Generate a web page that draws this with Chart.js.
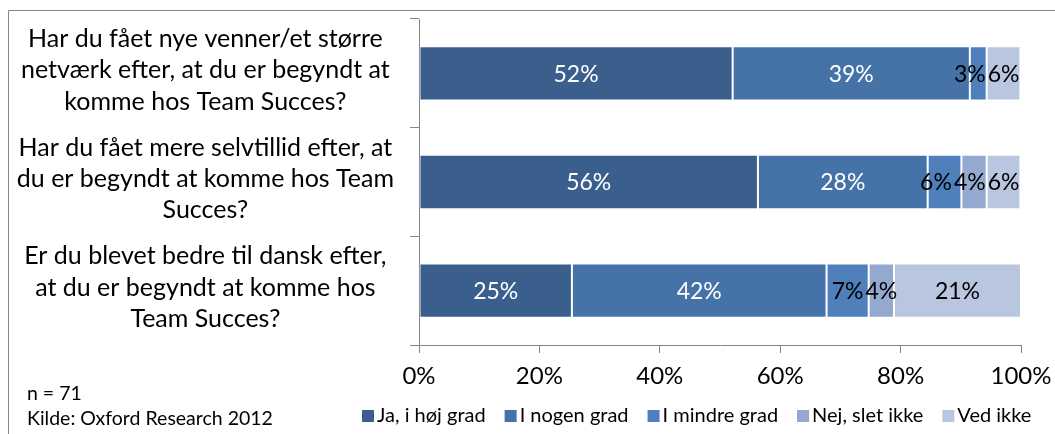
<!DOCTYPE html>
<html>
<head>
<meta charset="utf-8">
<title>Team Succes</title>
<script src="https://cdn.jsdelivr.net/npm/chart.js@4"></script>
<style>
  html, body { margin: 0; padding: 0; background: #fff; overflow: hidden; }
  #wrap { position: relative; width: 1055px; height: 434px; }
</style>
</head>
<body>
<div id="wrap"><canvas id="myChart" width="1055" height="434"></canvas></div>
<script>
const categories = [
  ["Har du fået nye venner/et større", "netværk efter, at du er begyndt at", "komme hos Team Succes?"],
  ["Har du fået mere selvtillid efter, at", "du er begyndt at komme hos Team", "Succes?"],
  ["Er du blevet bedre til dansk efter,", "at du er begyndt at komme hos", "Team Succes?"]
];
const seriesNames = ["Ja, i høj grad", "I nogen grad", "I mindre grad", "Nej, slet ikke", "Ved ikke"];

// share of answers in percent (n = 71)
const hojGrad    = [52.1, 56.3, 25.4];
const nogenGrad  = [39.4, 28.2, 42.3];
const mindreGrad = [2.8, 5.6, 7.0];
const sletIkke   = [0, 4.2, 4.2];
const vedIkke    = [5.6, 5.6, 21.1];

const tickValues = [0, 20, 40, 60, 80, 100];
const sampleNote = "n = 71";
const sourceNote = "Kilde: Oxford Research 2012";

const seriesColors = ["#3b5f8d", "#4573a7", "#4f80bc", "#94a9d0", "#b9c6e0"];
const labelColors = ["#ffffff", "#ffffff", "#000000", "#000000", "#000000"];
const FONT = "Lato, 'Open Sans', sans-serif";

const seriesValues = [hojGrad, nogenGrad, mindreGrad, sletIkke, vedIkke];

// outer frame around the whole chart
const framePlugin = {
  id: "frame",
  beforeDraw(chart) {
    const ctx = chart.ctx;
    ctx.save();
    ctx.strokeStyle = "#868686";
    ctx.lineWidth = 1;
    ctx.beginPath();
    ctx.moveTo(8.5, chart.height);
    ctx.lineTo(8.5, 10.5);
    ctx.lineTo(chart.width, 10.5);
    ctx.stroke();
    ctx.restore();
  }
};

// percentage text inside each bar segment
const valueLabels = {
  id: "valueLabels",
  afterDatasetsDraw(chart) {
    const ctx = chart.ctx;
    ctx.save();
    ctx.font = "23px " + FONT;
    ctx.textAlign = "center";
    ctx.textBaseline = "middle";
    categories.forEach((c, row) => {
      const items = [];
      chart.data.datasets.forEach((ds, i) => {
        const v = ds.data[row];
        if (!v) return;
        const bar = chart.getDatasetMeta(i).data[row];
        const text = Math.round(v) + "%";
        items.push({ text, x: (bar.x + bar.base) / 2, y: bar.y, w: ctx.measureText(text).width, color: labelColors[i] });
      });
      // push crowded labels to the left so they don't overlap
      for (let k = items.length - 2; k >= 0; k--) {
        const next = items[k + 1];
        const left = next.x - next.w / 2 - 2;
        if (items[k].x + items[k].w / 2 > left) items[k].x = left - items[k].w / 2;
      }
      items.forEach(it => {
        ctx.fillStyle = it.color;
        ctx.fillText(it.text, it.x, it.y + 1);
      });
    });
    ctx.restore();
  }
};

// legend row and footnotes at the bottom
const bottomTexts = {
  id: "bottomTexts",
  afterDraw(chart) {
    const ctx = chart.ctx;
    ctx.save();
    ctx.textBaseline = "middle";
    ctx.textAlign = "left";
    ctx.fillStyle = "#000";

    ctx.font = "19.5px " + FONT;
    ctx.fillText(sampleNote, 27, 394);
    ctx.fillText(sourceNote, 27, 419);

    ctx.font = "20px " + FONT;
    let x = 362;
    const y = 416;
    chart.data.datasets.forEach((ds, i) => {
      ctx.fillStyle = ds.backgroundColor;
      ctx.fillRect(x, y - 6, 12, 12);
      ctx.fillStyle = "#000";
      ctx.fillText(ds.label, x + 15, y);
      x += 15 + ctx.measureText(ds.label).width + 19;
    });
    ctx.restore();
  }
};

const ctx = document.getElementById("myChart");

new Chart(ctx, {
  type: "bar",
  data: {
    labels: categories,
    datasets: seriesNames.map((name, i) => ({
      label: name,
      data: seriesValues[i],
      backgroundColor: seriesColors[i],
      borderColor: "rgba(255,255,255,0.3)",
      borderWidth: 1,
      borderSkipped: false,
      barPercentage: 0.5,
      categoryPercentage: 1
    }))
  },
  options: {
    indexAxis: "y",
    responsive: false,
    animation: false,
    layout: { padding: { left: 0, right: 34, top: 19, bottom: 0 } },
    plugins: {
      legend: { display: false },
      tooltip: { enabled: false }
    },
    scales: {
      x: {
        stacked: true,
        min: 0,
        max: 100,
        afterBuildTicks(scale) {
          scale.ticks = tickValues.map(v => ({ value: v }));
        },
        afterFit(scale) {
          scale.height = 89;
          scale.paddingLeft = 0;
          scale.paddingRight = 0;
        },
        ticks: {
          callback: v => v + "%",
          color: "#000",
          padding: 9,
          font: { family: FONT, size: 24 }
        },
        grid: { drawOnChartArea: false, color: "#868686", tickLength: 8 },
        border: { color: "#868686" }
      },
      y: {
        stacked: true,
        afterFit(scale) {
          scale.width = 419;
          scale.paddingTop = 0;
          scale.paddingBottom = 0;
        },
        ticks: {
          color: "#000",
          autoSkip: false,
          crossAlign: "center",
          padding: 16,
          labelOffset: -3,
          font: { family: FONT, size: 25, lineHeight: 1.25 }
        },
        grid: { drawOnChartArea: false, color: "#868686", tickLength: 9, offset: true },
        border: { color: "#868686" }
      }
    }
  },
  plugins: [framePlugin, valueLabels, bottomTexts]
});
</script>
</body>
</html>
